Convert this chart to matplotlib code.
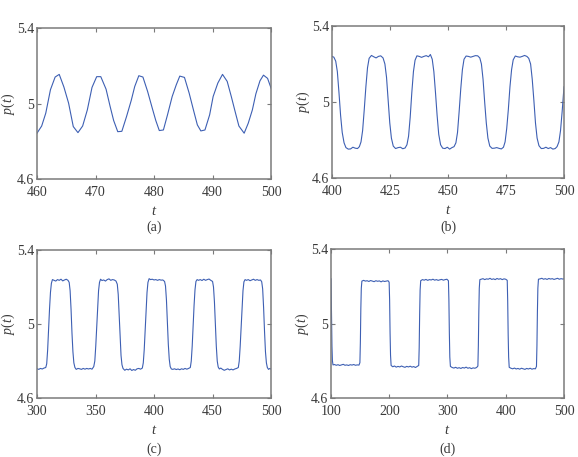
import numpy as np
import matplotlib
matplotlib.use('Agg')
import matplotlib.pyplot as plt

plt.rcParams['font.family'] = ['Liberation Serif', 'DejaVu Serif']
plt.rcParams['mathtext.fontset'] = 'custom'
plt.rcParams['mathtext.rm'] = 'Liberation Serif'
plt.rcParams['mathtext.it'] = 'Liberation Serif:italic'

# (a) t in [460, 500]
t_a = [460.0, 460.8, 461.5, 462.3, 463.1, 463.8, 464.6, 465.4, 466.2, 467.0,
       467.8, 468.6, 469.4, 470.2, 470.9, 471.8, 472.5, 473.1, 473.8, 474.5,
       475.3, 476.1, 476.7, 477.4, 478.1, 478.9, 479.7, 480.3, 480.9, 481.6,
       482.3, 483.1, 483.8, 484.4, 485.2, 486.0, 486.8, 487.4, 488.0, 488.7,
       489.5, 490.1, 490.9, 491.7, 492.5, 493.2, 493.9, 494.5, 495.4, 496.1,
       496.8, 497.4, 498.1, 498.7, 499.4, 500.0]
p_a = [4.843, 4.881, 4.949, 5.073, 5.140, 5.154, 5.087, 5.002, 4.878, 4.846,
       4.881, 4.966, 5.085, 5.142, 5.142, 5.076, 4.984, 4.910, 4.851, 4.853,
       4.931, 5.016, 5.090, 5.147, 5.140, 5.064, 4.975, 4.910, 4.857, 4.860,
       4.940, 5.037, 5.099, 5.145, 5.138, 5.055, 4.958, 4.887, 4.855, 4.860,
       4.940, 5.037, 5.108, 5.154, 5.117, 5.037, 4.952, 4.881, 4.843, 4.896,
       4.966, 5.051, 5.120, 5.150, 5.133, 5.081]

# (b) t in [400, 500]
t_b = [400.0, 400.8, 401.6, 402.3, 403.0, 403.7, 404.4, 405.2, 406.0, 407.0,
       408.0, 409.0, 410.0, 411.0, 411.8, 412.5, 413.2, 413.9, 414.6, 415.3,
       416.0, 417.0, 418.0, 419.0, 420.0, 421.0, 422.0, 422.8, 423.5, 424.2,
       424.9, 425.6, 426.4, 427.4, 428.5, 429.5, 430.5, 431.5, 432.3, 433.0,
       433.7, 434.4, 435.1, 435.8, 436.6, 437.6, 438.6, 439.6, 440.6, 441.6,
       442.4, 443.2, 443.9, 444.6, 445.3, 446.0, 446.8, 447.7, 448.7, 449.7,
       450.7, 451.7, 452.6, 453.4, 454.1, 454.8, 455.5, 456.2, 456.9, 457.8,
       458.8, 459.8, 460.8, 461.8, 462.8, 463.7, 464.4, 465.1, 465.8, 466.5,
       467.2, 468.0, 469.0, 470.0, 471.0, 472.0, 473.0, 473.9, 474.6, 475.3,
       476.0, 476.7, 477.4, 478.1, 479.0, 480.0, 481.0, 482.0, 483.0, 484.0,
       484.8, 485.6, 486.3, 487.0, 487.7, 488.4, 489.2, 490.2, 491.2, 492.2,
       493.2, 494.2, 495.2, 496.2, 497.0, 497.8, 498.5, 499.2, 500.0]
p_b = [5.240, 5.236, 5.215, 5.160, 5.050, 4.930, 4.840, 4.785, 4.760, 4.752,
       4.753, 4.762, 4.757, 4.755, 4.765, 4.790, 4.850, 4.960, 5.080, 5.180,
       5.230, 5.245, 5.238, 5.232, 5.240, 5.243, 5.232, 5.200, 5.130, 5.010,
       4.890, 4.810, 4.768, 4.755, 4.760, 4.762, 4.754, 4.758, 4.775, 4.820,
       4.920, 5.050, 5.160, 5.220, 5.243, 5.240, 5.235, 5.240, 5.244, 5.238,
       5.250, 5.225, 5.160, 5.050, 4.930, 4.830, 4.775, 4.757, 4.755, 4.762,
       4.752, 4.760, 4.765, 4.785, 4.840, 4.950, 5.070, 5.170, 5.225, 5.242,
       5.240, 5.236, 5.240, 5.244, 5.243, 5.232, 5.200, 5.120, 5.000, 4.890,
       4.810, 4.768, 4.756, 4.757, 4.760, 4.756, 4.753, 4.762, 4.790, 4.860,
       4.960, 5.080, 5.170, 5.222, 5.242, 5.238, 5.236, 5.240, 5.245, 5.240,
       5.230, 5.200, 5.120, 5.010, 4.890, 4.810, 4.770, 4.755, 4.756, 4.762,
       4.755, 4.760, 4.752, 4.755, 4.765, 4.790, 4.850, 4.950, 5.080]

# (c) t in [300, 500]
t_c = [300.0, 301.5, 303.0, 304.5, 306.0, 307.5, 308.3, 309.1, 309.9, 310.7,
       311.5, 312.3, 313.2, 314.5, 316.0, 317.5, 319.0, 320.5, 322.0, 323.5,
       325.0, 326.5, 327.5, 328.3, 329.1, 329.9, 330.7, 331.5, 332.4, 333.5,
       335.0, 336.5, 338.0, 339.5, 341.0, 342.5, 344.0, 345.5, 347.0, 348.5,
       349.4, 350.2, 351.0, 351.8, 352.6, 353.4, 354.3, 355.5, 357.0, 358.5,
       360.0, 361.5, 363.0, 364.5, 366.0, 367.5, 368.6, 369.4, 370.2, 371.0,
       371.8, 372.6, 373.5, 375.0, 376.5, 378.0, 379.5, 381.0, 382.5, 384.0,
       385.5, 387.0, 388.5, 390.0, 390.8, 391.6, 392.4, 393.2, 394.0, 394.8,
       395.8, 397.0, 398.5, 400.0, 401.5, 403.0, 404.5, 406.0, 407.5, 409.0,
       409.8, 410.6, 411.4, 412.2, 413.0, 413.8, 414.8, 416.0, 417.5, 419.0,
       420.5, 422.0, 423.5, 425.0, 426.5, 428.0, 429.5, 431.0, 431.8, 432.6,
       433.4, 434.2, 435.0, 435.8, 436.8, 438.0, 439.5, 441.0, 442.5, 444.0,
       445.5, 447.0, 448.5, 450.0, 450.8, 451.6, 452.4, 453.2, 454.0, 454.8,
       455.8, 457.0, 458.5, 460.0, 461.5, 463.0, 464.5, 466.0, 467.5, 469.0,
       470.5, 472.0, 472.8, 473.6, 474.4, 475.2, 476.0, 476.8, 477.8, 479.0,
       480.5, 482.0, 483.5, 485.0, 486.5, 488.0, 489.5, 491.0, 492.0, 492.8,
       493.6, 494.4, 495.2, 496.0, 496.8, 497.8, 499.0, 500.0]
p_c = [4.758, 4.755, 4.760, 4.757, 4.762, 4.765, 4.785, 4.860, 4.970, 5.080,
       5.170, 5.220, 5.240, 5.236, 5.232, 5.240, 5.236, 5.242, 5.233, 5.238,
       5.242, 5.236, 5.225, 5.180, 5.080, 4.950, 4.850, 4.790, 4.765, 4.755,
       4.760, 4.758, 4.755, 4.760, 4.756, 4.760, 4.757, 4.760, 4.756, 4.770,
       4.800, 4.880, 4.980, 5.090, 5.180, 5.225, 5.242, 5.235, 5.238, 5.232,
       5.240, 5.244, 5.236, 5.240, 5.238, 5.232, 5.215, 5.160, 5.050, 4.930,
       4.830, 4.780, 4.760, 4.750, 4.756, 4.752, 4.758, 4.749, 4.754, 4.750,
       4.758, 4.760, 4.756, 4.762, 4.790, 4.860, 4.960, 5.070, 5.170, 5.225,
       5.245, 5.240, 5.242, 5.238, 5.240, 5.236, 5.240, 5.237, 5.238, 5.230,
       5.205, 5.130, 5.010, 4.890, 4.810, 4.770, 4.757, 4.755, 4.758, 4.754,
       4.757, 4.753, 4.758, 4.755, 4.760, 4.756, 4.760, 4.765, 4.800, 4.880,
       4.990, 5.100, 5.185, 5.230, 5.240, 5.236, 5.240, 5.235, 5.242, 5.236,
       5.240, 5.243, 5.236, 5.230, 5.200, 5.120, 5.000, 4.880, 4.800, 4.768,
       4.757, 4.762, 4.755, 4.750, 4.754, 4.758, 4.752, 4.756, 4.752, 4.757,
       4.760, 4.765, 4.800, 4.880, 4.980, 5.090, 5.180, 5.228, 5.240, 5.236,
       5.240, 5.234, 5.238, 5.242, 5.236, 5.240, 5.236, 5.238, 5.228, 5.190,
       5.090, 4.960, 4.850, 4.790, 4.765, 4.755, 4.760, 4.756]

# (d) t in [100, 500]
t_d = [100.0, 100.8, 101.6, 102.4, 103.4, 106, 109, 112, 115, 118,
       121, 124, 127, 130, 133, 136, 139, 142, 145, 148,
       149.6, 150.4, 151.2, 152.0, 153.0, 156, 159, 162, 165, 168,
       171, 174, 177, 180, 183, 186, 189, 192, 195, 198,
       199.8, 200.6, 201.4, 202.2, 203.2, 206, 209, 212, 215, 218,
       221, 224, 227, 230, 233, 236, 239, 242, 245, 248,
       250.6, 251.4, 252.2, 253.0, 254.0, 257, 260, 263, 266, 269,
       272, 275, 278, 281, 284, 287, 290, 293, 296, 299,
       301.6, 302.4, 303.2, 304.0, 305.0, 308, 311, 314, 317, 320,
       323, 326, 329, 332, 335, 338, 341, 344, 347, 350,
       352.2, 353.0, 353.8, 354.6, 355.6, 358, 361, 364, 367, 370,
       373, 376, 379, 382, 385, 388, 391, 394, 397, 400,
       402.6, 403.4, 404.2, 405.0, 406.0, 409, 412, 415, 418, 421,
       424, 427, 430, 433, 436, 439, 442, 445, 448, 451,
       452.8, 453.6, 454.4, 455.2, 456.2, 459, 462, 465, 468, 471,
       474, 477, 480, 483, 486, 489, 492, 495, 498, 500]
p_d = [5.240, 5.050, 4.880, 4.800, 4.778, 4.780, 4.776, 4.779, 4.775, 4.778,
       4.781, 4.776, 4.778, 4.775, 4.779, 4.777, 4.780, 4.776, 4.778, 4.777,
       4.790, 4.900, 5.080, 5.190, 5.228, 5.232, 5.228, 5.230, 5.226, 5.231,
       5.228, 5.225, 5.230, 5.227, 5.229, 5.224, 5.229, 5.226, 5.228, 5.230,
       5.222, 5.130, 4.950, 4.830, 4.775, 4.768, 4.772, 4.766, 4.770, 4.767,
       4.772, 4.768, 4.765, 4.770, 4.767, 4.771, 4.766, 4.769, 4.764, 4.770,
       4.775, 4.870, 5.050, 5.180, 5.230, 5.236, 5.233, 5.237, 5.232, 5.236,
       5.234, 5.238, 5.233, 5.236, 5.232, 5.235, 5.237, 5.233, 5.236, 5.238,
       5.230, 5.130, 4.950, 4.820, 4.770, 4.764, 4.761, 4.765, 4.760, 4.763,
       4.759, 4.764, 4.761, 4.766, 4.760, 4.763, 4.758, 4.762, 4.760, 4.764,
       4.772, 4.880, 5.060, 5.190, 5.236, 5.238, 5.241, 5.236, 5.240, 5.238,
       5.243, 5.237, 5.240, 5.236, 5.242, 5.238, 5.241, 5.236, 5.240, 5.238,
       5.232, 5.120, 4.940, 4.820, 4.765, 4.760, 4.757, 4.761, 4.756, 4.759,
       4.755, 4.760, 4.757, 4.754, 4.759, 4.756, 4.760, 4.755, 4.758, 4.757,
       4.770, 4.880, 5.060, 5.190, 5.238, 5.240, 5.243, 5.238, 5.241, 5.237,
       5.242, 5.239, 5.241, 5.237, 5.240, 5.243, 5.238, 5.241, 5.239, 5.240]

panels = [
    (t_a, p_a, [460, 470, 480, 490, 500], '(a)', [0.064, 0.608, 0.405, 0.331], 0.503),
    (t_b, p_b, [400, 425, 450, 475, 500], '(b)', [0.5744, 0.6105, 0.4014, 0.3326], 0.503),
    (t_c, p_c, [300, 350, 400, 450, 500], '(c)', [0.064, 0.129, 0.405, 0.324], 0.017),
    (t_d, p_d, [100, 200, 300, 400, 500], '(d)', [0.5727, 0.129, 0.403, 0.326], 0.017),
]
y_ticks = [4.6, 5.0, 5.4]
y_labels = ['4.6', '5', '5.4']

line_col = '#3d5fb3'
frame_col = '#7a7a7a'
text_col = '#3a3a3a'

fig = plt.figure(figsize=(5.78, 4.57), dpi=100)

for t, p, xt, lab, pos, ly in panels:
    ax = fig.add_axes(pos)
    ax.plot(t, p, color=line_col, lw=0.8)
    ax.set_xlim(xt[0], xt[-1])
    ax.set_ylim(4.6, 5.4)
    ax.set_xticks(xt)
    ax.set_xticklabels([str(v) for v in xt])
    ax.set_yticks(y_ticks)
    ax.set_yticklabels(y_labels)
    ax.tick_params(direction='in', top=True, right=True, length=3,
                   width=0.8, color=frame_col, labelsize=10,
                   labelcolor=text_col)
    ax.tick_params(axis='x', pad=5)
    ax.tick_params(axis='y', pad=2)
    for s in ax.spines.values():
        s.set_color(frame_col)
        s.set_linewidth(1.1)
    ax.set_xlabel(r'$t$', fontsize=10.5, color=text_col, labelpad=4)
    ax.set_ylabel(r'$p(t)$', fontsize=10, color=text_col, labelpad=0)
    cx = pos[0] + pos[2] / 2
    fig.text(cx, ly, lab, ha='center', va='center',
             fontsize=10, color=text_col)

fig.savefig('out.png', dpi=100)
